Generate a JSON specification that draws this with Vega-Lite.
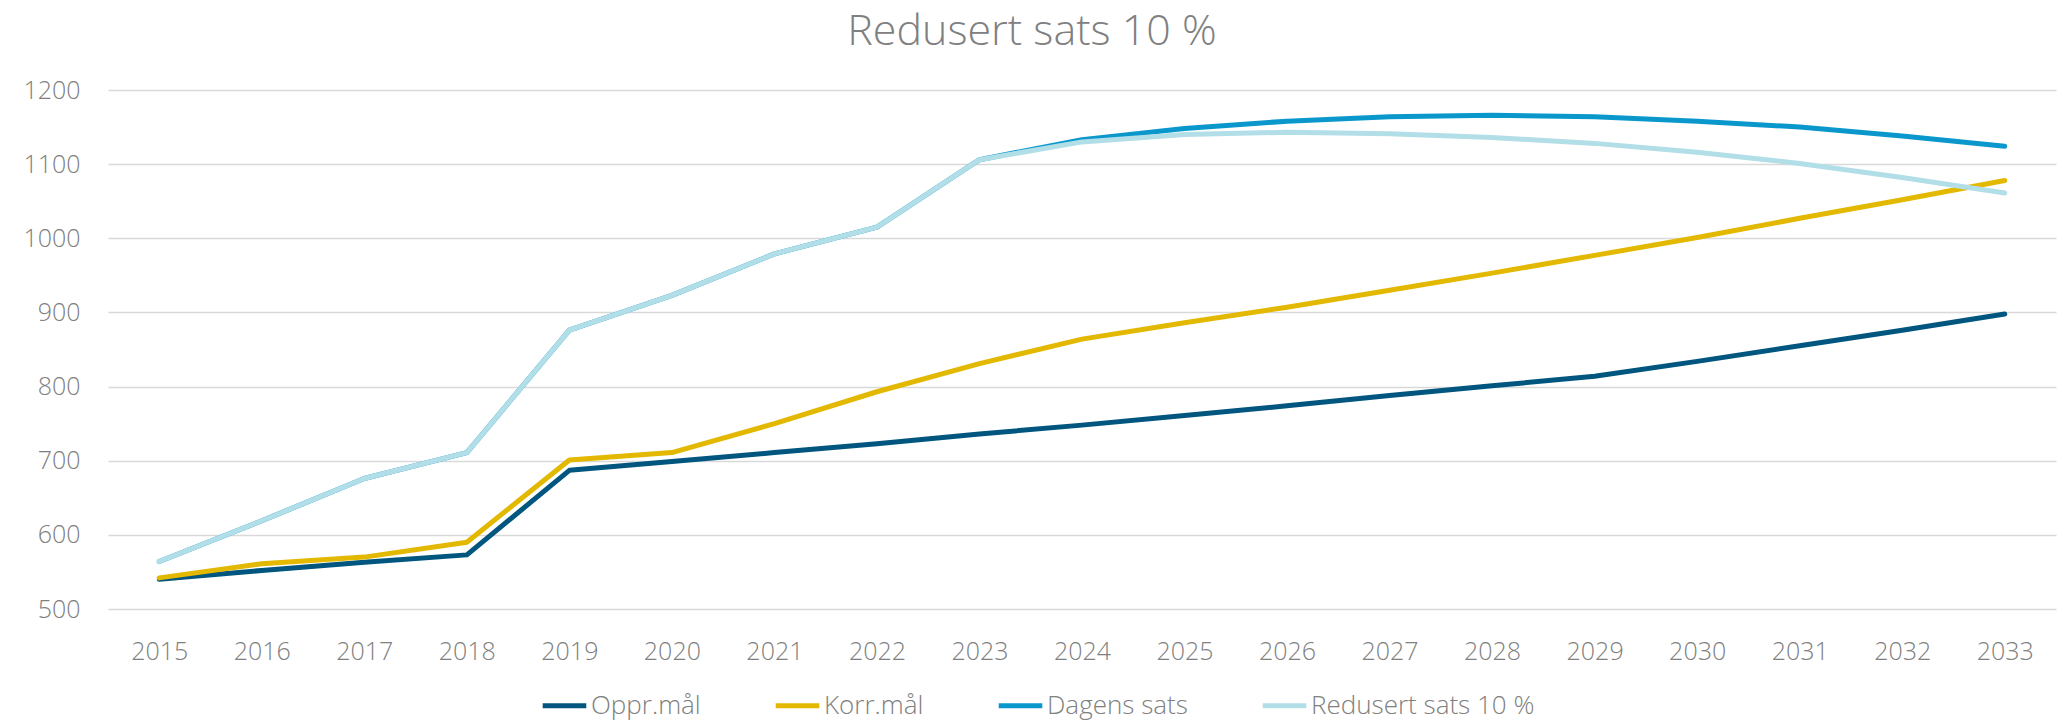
{
  "$schema": "https://vega.github.io/schema/vega-lite/v6.json",
  "width": 1948,
  "height": 519,
  "padding": {"left": 8, "top": 11, "right": 13, "bottom": 2},
  "background": "white",
  "title": {"text": "Redusert sats 10 %", "fontSize": 43, "font": "Open Sans", "fontWeight": 300, "color": "#808080", "anchor": "middle", "frame": "bounds", "offset": 24},
  "config": {
    "view": {"stroke": null},
    "font": "Open Sans",
    "axis": {"labelFont": "Open Sans", "labelFontWeight": 300, "labelColor": "#808080", "labelFontSize": 25, "domain": false, "ticks": false, "title": null},
    "legend": {"labelFont": "Open Sans", "labelFontWeight": 300, "labelColor": "#808080", "labelFontSize": 26}
  },
  "data": {"values": [
    {"year": "2015", "series": "Oppr.mål", "value": 540},
    {"year": "2016", "series": "Oppr.mål", "value": 552},
    {"year": "2017", "series": "Oppr.mål", "value": 563},
    {"year": "2018", "series": "Oppr.mål", "value": 573},
    {"year": "2019", "series": "Oppr.mål", "value": 687},
    {"year": "2020", "series": "Oppr.mål", "value": 699},
    {"year": "2021", "series": "Oppr.mål", "value": 711},
    {"year": "2022", "series": "Oppr.mål", "value": 723},
    {"year": "2023", "series": "Oppr.mål", "value": 736},
    {"year": "2024", "series": "Oppr.mål", "value": 748},
    {"year": "2025", "series": "Oppr.mål", "value": 761},
    {"year": "2026", "series": "Oppr.mål", "value": 774},
    {"year": "2027", "series": "Oppr.mål", "value": 788},
    {"year": "2028", "series": "Oppr.mål", "value": 801},
    {"year": "2029", "series": "Oppr.mål", "value": 814},
    {"year": "2030", "series": "Oppr.mål", "value": 834},
    {"year": "2031", "series": "Oppr.mål", "value": 855},
    {"year": "2032", "series": "Oppr.mål", "value": 876},
    {"year": "2033", "series": "Oppr.mål", "value": 898},
    {"year": "2015", "series": "Korr.mål", "value": 542},
    {"year": "2016", "series": "Korr.mål", "value": 561},
    {"year": "2017", "series": "Korr.mål", "value": 570},
    {"year": "2018", "series": "Korr.mål", "value": 590},
    {"year": "2019", "series": "Korr.mål", "value": 701},
    {"year": "2020", "series": "Korr.mål", "value": 711},
    {"year": "2021", "series": "Korr.mål", "value": 750},
    {"year": "2022", "series": "Korr.mål", "value": 793},
    {"year": "2023", "series": "Korr.mål", "value": 831},
    {"year": "2024", "series": "Korr.mål", "value": 864},
    {"year": "2025", "series": "Korr.mål", "value": 886},
    {"year": "2026", "series": "Korr.mål", "value": 907},
    {"year": "2027", "series": "Korr.mål", "value": 930},
    {"year": "2028", "series": "Korr.mål", "value": 953},
    {"year": "2029", "series": "Korr.mål", "value": 977},
    {"year": "2030", "series": "Korr.mål", "value": 1001},
    {"year": "2031", "series": "Korr.mål", "value": 1027},
    {"year": "2032", "series": "Korr.mål", "value": 1052},
    {"year": "2033", "series": "Korr.mål", "value": 1078},
    {"year": "2015", "series": "Dagens sats", "value": 564},
    {"year": "2016", "series": "Dagens sats", "value": 619},
    {"year": "2017", "series": "Dagens sats", "value": 676},
    {"year": "2018", "series": "Dagens sats", "value": 711},
    {"year": "2019", "series": "Dagens sats", "value": 876},
    {"year": "2020", "series": "Dagens sats", "value": 923},
    {"year": "2021", "series": "Dagens sats", "value": 979},
    {"year": "2022", "series": "Dagens sats", "value": 1015},
    {"year": "2023", "series": "Dagens sats", "value": 1106},
    {"year": "2024", "series": "Dagens sats", "value": 1133},
    {"year": "2025", "series": "Dagens sats", "value": 1148},
    {"year": "2026", "series": "Dagens sats", "value": 1158},
    {"year": "2027", "series": "Dagens sats", "value": 1164},
    {"year": "2028", "series": "Dagens sats", "value": 1166},
    {"year": "2029", "series": "Dagens sats", "value": 1164},
    {"year": "2030", "series": "Dagens sats", "value": 1158},
    {"year": "2031", "series": "Dagens sats", "value": 1150},
    {"year": "2032", "series": "Dagens sats", "value": 1138},
    {"year": "2033", "series": "Dagens sats", "value": 1124},
    {"year": "2015", "series": "Redusert sats 10 %", "value": 564},
    {"year": "2016", "series": "Redusert sats 10 %", "value": 619},
    {"year": "2017", "series": "Redusert sats 10 %", "value": 676},
    {"year": "2018", "series": "Redusert sats 10 %", "value": 711},
    {"year": "2019", "series": "Redusert sats 10 %", "value": 876},
    {"year": "2020", "series": "Redusert sats 10 %", "value": 923},
    {"year": "2021", "series": "Redusert sats 10 %", "value": 979},
    {"year": "2022", "series": "Redusert sats 10 %", "value": 1015},
    {"year": "2023", "series": "Redusert sats 10 %", "value": 1106},
    {"year": "2024", "series": "Redusert sats 10 %", "value": 1130},
    {"year": "2025", "series": "Redusert sats 10 %", "value": 1140},
    {"year": "2026", "series": "Redusert sats 10 %", "value": 1143},
    {"year": "2027", "series": "Redusert sats 10 %", "value": 1141},
    {"year": "2028", "series": "Redusert sats 10 %", "value": 1136},
    {"year": "2029", "series": "Redusert sats 10 %", "value": 1128},
    {"year": "2030", "series": "Redusert sats 10 %", "value": 1116},
    {"year": "2031", "series": "Redusert sats 10 %", "value": 1101},
    {"year": "2032", "series": "Redusert sats 10 %", "value": 1082},
    {"year": "2033", "series": "Redusert sats 10 %", "value": 1061}
  ]},
  "mark": {"type": "line", "strokeWidth": 5, "strokeCap": "round", "strokeJoin": "round"},
  "encoding": {
    "x": {"field": "year", "type": "ordinal", "scale": {"type": "point", "padding": 0.5},
          "axis": {"labelAngle": 0, "labelPadding": 30, "grid": false}},
    "y": {"field": "value", "type": "quantitative", "scale": {"domain": [500, 1200], "nice": false, "zero": false},
          "axis": {"values": [500, 600, 700, 800, 900, 1000, 1100, 1200], "format": "d", "gridColor": "#D9D9D9", "gridWidth": 1.5, "labelPadding": 28, "extent": 100, "minExtent": 100, "maxExtent": 100}},
    "color": {"field": "series", "type": "nominal",
      "scale": {"domain": ["Oppr.mål", "Korr.mål", "Dagens sats", "Redusert sats 10 %"], "range": ["#00567E", "#E3B800", "#0A98CC", "#B2DEE8"]},
      "legend": {"orient": "none", "legendX": 432, "legendY": 591, "direction": "horizontal", "title": null, "symbolType": "stroke", "symbolStrokeWidth": 5, "symbolSize": 1900, "columnPadding": 64, "labelOffset": 2, "labelLimit": 0}},
    "order": {"field": "series"}
  }
}
